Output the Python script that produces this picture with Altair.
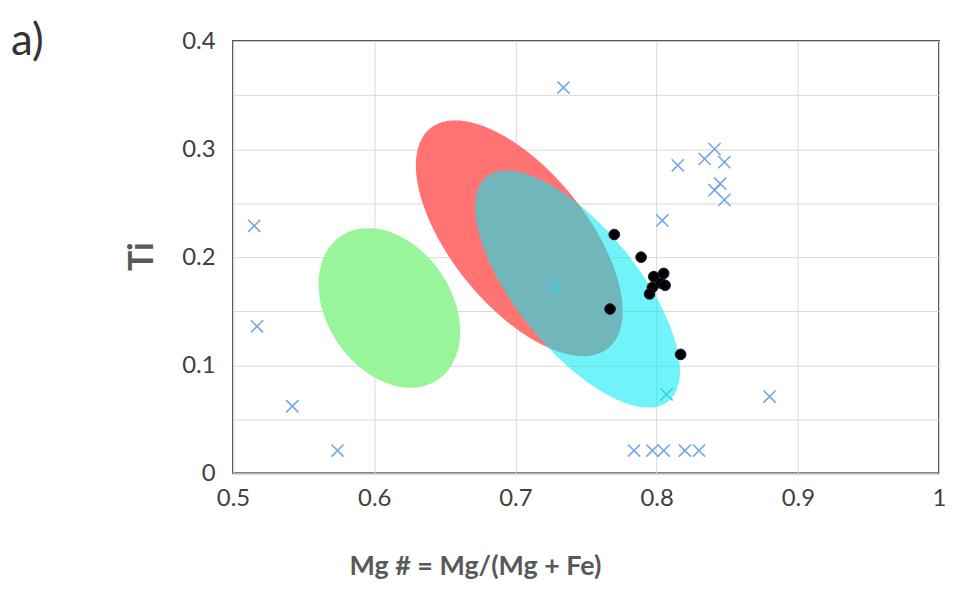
import math
import altair as alt
import pandas as pd

# ---------------- data ----------------
# light-blue "x" markers
cross_x = [0.734, 0.515, 0.517, 0.542, 0.574, 0.815, 0.804, 0.834, 0.841, 0.848,
           0.845, 0.841, 0.848, 0.807, 0.880, 0.784, 0.797, 0.805, 0.820, 0.830, 0.728]
cross_y = [0.357, 0.229, 0.136, 0.062, 0.021, 0.285, 0.234, 0.291, 0.300, 0.288,
           0.268, 0.262, 0.253, 0.073, 0.071, 0.021, 0.021, 0.021, 0.021, 0.021, 0.172]

# black dots
dot_x = [0.770, 0.789, 0.798, 0.805, 0.803, 0.797, 0.795, 0.806, 0.767, 0.817]
dot_y = [0.221, 0.200, 0.182, 0.185, 0.176, 0.172, 0.166, 0.174, 0.152, 0.110]

# ellipses: centre (data units), semi-axes (screen px), tilt (deg, down-right)
ell_names = ["green", "red", "cyan"]
ell_cx = [0.6107, 0.7027, 0.7440]
ell_cy = [0.153, 0.2175, 0.1705]
ell_a = [87.0, 142.0, 145.0]
ell_b = [62.5, 68.0, 61.0]
ell_tilt = [56.0, 51.0, 51.0]

x_ticks = [0.5, 0.6, 0.7, 0.8, 0.9, 1.0]
y_ticks = [0.0, 0.05, 0.1, 0.15, 0.2, 0.25, 0.3, 0.35, 0.4]
panel_label = ["a)"]
x_title = "Mg # = Mg/(Mg + Fe)"
y_title = "Ti"

# ---------------- layout ----------------
W, H = 709, 434
X0, X1 = 0.5, 1.0
Y0, Y1 = 0.0, 0.4
SX = W / (X1 - X0)
SY = H / (Y1 - Y0)


def ellipse_df(cx, cy, a, b, tilt):
    th = math.radians(tilt)
    c, s = math.cos(th), math.sin(th)
    A = c * c / a ** 2 + s * s / b ** 2
    B = 2 * s * c * (1 / a ** 2 - 1 / b ** 2)
    C = s * s / a ** 2 + c * c / b ** 2
    hx = math.sqrt(a * a * c * c + b * b * s * s)
    rows = []
    N = 300
    for k in range(N + 1):
        u = -hx * math.cos(math.pi * k / N)
        disc = max(B * B * u * u - 4 * C * (A * u * u - 1), 0.0)
        r = math.sqrt(disc)
        v1 = (-B * u - r) / (2 * C)
        v2 = (-B * u + r) / (2 * C)
        rows.append({"x": cx + u / SX, "y": cy - v1 / SY, "y2": cy - v2 / SY})
    return pd.DataFrame(rows)


xscale = alt.Scale(domain=[X0, X1], nice=False, zero=False)
yscale = alt.Scale(domain=[Y0, Y1], nice=False, zero=False)

xaxis = alt.Axis(values=x_ticks, format="~g", title=x_title, grid=True,
                 gridColor="#d9d9d9", gridWidth=1, domain=False, ticks=False,
                 tickSize=0, labelPadding=13, labelFlush=False,
                 labelFont="Lato", labelFontSize=24,
                 labelColor="#404040", titleFont="Lato", titleFontSize=27,
                 titleFontWeight="bold", titleColor="#595959",
                 titleX=243, titleY=102, titleAlign="center",
                 titleBaseline="alphabetic")
yaxis = alt.Axis(values=y_ticks,
                 labelExpr="round(datum.value*100) % 10 == 0 ? format(datum.value, '~g') : ''",
                 title=y_title, grid=True, gridColor="#d9d9d9", gridWidth=1,
                 domain=False, ticks=False, tickSize=0, labelPadding=18,
                 labelFlush=False,
                 labelFont="Lato", labelFontSize=24, labelColor="#404040",
                 titleFont="Lato", titleFontSize=34, titleFontWeight="bold",
                 titleColor="#595959", titleX=-91, titleY=216, titleAngle=270,
                 titleAlign="center", titleBaseline="middle")


def X(f="x"):
    return alt.X(f"{f}:Q", scale=xscale, axis=xaxis)


def Y(f="y"):
    return alt.Y(f"{f}:Q", scale=yscale, axis=yaxis)


colors = {"green": "#99F599", "red": "#FF7373", "cyan": "#00ECF5"}
opac = {"green": 1.0, "red": 1.0, "cyan": 0.56}

ell_layers = {}
for i, n in enumerate(ell_names):
    df = ellipse_df(ell_cx[i], ell_cy[i], ell_a[i], ell_b[i], ell_tilt[i])
    ell_layers[n] = alt.Chart(df).mark_area(
        color=colors[n], opacity=opac[n], interpolate="linear"
    ).encode(x=X(), y=Y(), y2="y2:Q")

cross_df = pd.DataFrame({"x": cross_x, "y": cross_y})
crosses = alt.Chart(cross_df).mark_point(
    shape="M-1,-1L1,1M-1,1L1,-1", size=150, filled=False,
    stroke="#74A6E6", strokeWidth=1.6, opacity=1
).encode(x=X(), y=Y())

dot_df = pd.DataFrame({"x": dot_x, "y": dot_y})
dots = alt.Chart(dot_df).mark_point(
    shape="circle", size=115, filled=True, fill="#000000",
    stroke="#1a1a2e", strokeWidth=1, opacity=1
).encode(x=X(), y=Y())

label = alt.Chart(pd.DataFrame({"t": panel_label})).mark_text(
    font="Lato", fontSize=44, color="#333333", align="left", baseline="alphabetic"
).encode(text="t:N", x=alt.value(-223), y=alt.value(14))

chart = alt.layer(
    ell_layers["green"], ell_layers["red"], crosses, ell_layers["cyan"], dots, label
).properties(
    width=W, height=H,
    autosize=alt.AutoSizeParams(type="none"),
    padding={"left": 226, "top": 32, "right": 6, "bottom": 112},
    background="white",
).configure_view(stroke="#555555", strokeWidth=2)

chart.save("out.html", embed_options={"renderer": "svg", "actions": False})
